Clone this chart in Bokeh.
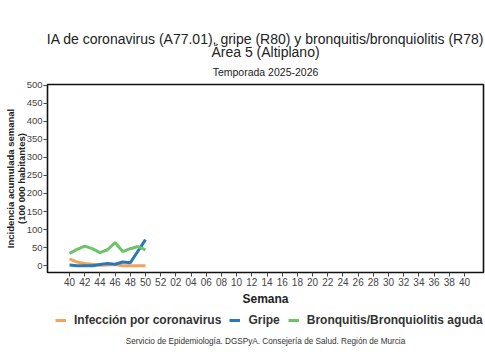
from bokeh.plotting import figure
from bokeh.models import Title, Legend, LegendItem, FixedTicker, Range1d, Label
from bokeh.layouts import column
from bokeh.embed import file_html
from bokeh.resources import INLINE

# Season weeks (40 .. 52, 01 .. 40)
weeks = [f"{w:02d}" for w in list(range(40, 53)) + list(range(1, 41))]
# observed weeks so far: 40..50
coronavirus = [19, 10, 6, 4, 1, 2, 3, 0, 0, 0, 0]
gripe = [2, 0, 0, 0, 3, 6, 4, 10, 8, 40, 72]
bronquitis = [34, 45, 54, 47, 36, 44, 64, 39, 47, 53, 44]
y_ticks = [0, 50, 100, 150, 200, 250, 300, 350, 400, 450, 500]
series_names = ["Infección por coronavirus", "Gripe", "Bronquitis/Bronquiolitis aguda"]

FONT = "Liberation Sans"
ORANGE = "#F5A35B"
BLUE = "#2879B8"
GREEN = "#6DC26A"
COLORS = [ORANGE, BLUE, GREEN]
SERIES = [coronavirus, gripe, bronquitis]

xs = list(range(len(gripe)))

p = figure(width=485, height=310, output_backend="svg", toolbar_location=None,
           x_range=Range1d(-2.9, 54.5), y_range=Range1d(-19, 502),
           min_border_left=47, min_border_right=2, min_border_top=84,
           min_border_bottom=38)
p.outline_line_color = "#111111"
p.outline_line_width = 1.6
p.xgrid.visible = False
p.ygrid.visible = False

for vals, c in zip(SERIES, COLORS):
    p.line(xs, vals, line_color=c, line_width=3)

# x axis
xt = list(range(0, len(weeks), 2))
p.xaxis.ticker = FixedTicker(ticks=xt)
p.xaxis.major_label_overrides = {i: weeks[i] for i in xt}
p.xaxis.axis_line_color = None
p.xaxis.major_tick_in = 0
p.xaxis.major_tick_out = 4
p.xaxis.minor_tick_line_color = None
p.xaxis.major_tick_line_color = "#444444"
p.xaxis.major_label_text_font = FONT
p.xaxis.major_label_text_font_size = "10px"
p.xaxis.major_label_text_color = "#444444"
p.xaxis.major_label_standoff = 1
p.xaxis.axis_label = "Semana"
p.xaxis.axis_label_text_font = FONT
p.xaxis.axis_label_text_font_size = "12px"
p.xaxis.axis_label_text_font_style = "bold"
p.xaxis.axis_label_text_color = "#222222"
p.xaxis.axis_label_standoff = 3

# y axis
p.yaxis.ticker = FixedTicker(ticks=y_ticks)
p.yaxis.axis_line_color = None
p.yaxis.major_tick_in = 0
p.yaxis.major_tick_out = 4
p.yaxis.minor_tick_line_color = None
p.yaxis.major_tick_line_color = "#444444"
p.yaxis.major_label_text_font = FONT
p.yaxis.major_label_text_font_size = "9.5px"
p.yaxis.major_label_text_color = "#444444"
p.yaxis.major_label_standoff = 1
p.yaxis.axis_label = "Incidencia acumulada semanal\n(100 000 habitantes)"
p.yaxis.axis_label_text_font = FONT
p.yaxis.axis_label_text_font_size = "9.5px"
p.yaxis.axis_label_text_font_style = "bold"
p.yaxis.axis_label_text_color = "#222222"
p.yaxis.axis_label_text_line_height = 0.95
p.yaxis.axis_label_standoff = -3

# titles (first added is closest to the frame)
def title(text, size, standoff):
    p.add_layout(Title(text=text, align="center", text_font=FONT, text_font_size=size,
                       text_font_style="normal", text_color="#222222",
                       standoff=standoff, offset=0), "above")

title("Temporada 2025-2026", "10.5px", 14)
title("Área 5 (Altiplano)", "14px", -6)
title("IA de coronavirus (A77.01), gripe (R80) y bronquitis/bronquiolitis (R78)", "14px", -5)

# legend + source strip (frames of the column are aligned with the chart)
p2 = figure(width=485, height=50, output_backend="svg", toolbar_location=None,
            x_range=Range1d(0, 1), y_range=Range1d(5000, 5001),
            min_border=0, x_axis_type=None, y_axis_type=None)
p2.outline_line_color = None
p2.xgrid.visible = False
p2.ygrid.visible = False
items = []
for name, vals, c in zip(series_names, SERIES, COLORS):
    r = p2.line(xs, vals, line_color=c, line_width=3)
    items.append(LegendItem(label=name, renderers=[r]))
legend = Legend(items=items, orientation="horizontal", location=(8, 33),
                label_text_font=FONT, label_text_font_size="12px",
                label_text_font_style="bold", label_text_color="#333333",
                glyph_width=11, glyph_height=14, label_height=14,
                label_standoff=8, spacing=8, padding=0, margin=0,
                border_line_color=None, background_fill_alpha=0)
p2.add_layout(legend, "center")
p2.add_layout(Label(x=218, y=19, x_units="screen", y_units="screen",
                    text="Servicio de Epidemiología. DGSPyA. Consejería de Salud. Región de Murcia",
                    text_font=FONT, text_font_size="8.2px", text_color="#333333",
                    text_align="center", text_baseline="middle"))

open("out.html", "w").write(file_html(column(p, p2), INLINE))
